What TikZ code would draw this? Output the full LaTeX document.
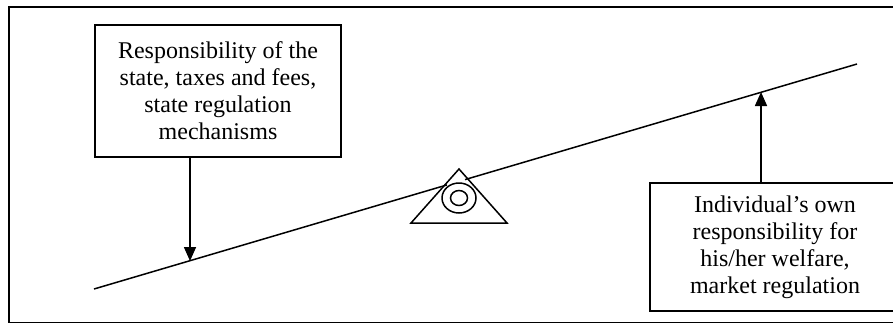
\documentclass[tikz,border=0pt]{standalone}
\usepackage{fontspec}
\setmainfont{Liberation Serif}
\usetikzlibrary{arrows.meta,calc}
\begin{document}
\begin{tikzpicture}[x=1pt,y=-1pt,
  line width=1.5pt,
  txtbox/.style={draw, line width=1.5pt, align=center, inner sep=0pt, font=\fontsize{24}{27}\selectfont},
  arr/.style={-{Triangle[length=14pt,width=12pt]}, line width=1.6pt}]
\useasboundingbox (0,0) rectangle (893,325);
\begin{scope}
\clip (0,0) rectangle (893,325);
% frame
\draw (9,7) rectangle (905,322.5);
% beam
\coordinate (b1) at (94,289);
\coordinate (b2) at (857,64);
\draw (b1) -- ($(b1)!0.4626!(b2)$);
\draw ($(b1)!0.4862!(b2)$) -- (b2);
% fulcrum
\draw (459,169) -- (507,223) -- (411,223) -- cycle;
\draw (459,198) ellipse [x radius=17, y radius=15];
\draw (459,198) ellipse [x radius=8.5, y radius=7.5];
% boxes
\node[txtbox, minimum width=246pt, minimum height=132pt] (lbox) at (218,91)
  {Responsibility of the\\state, taxes and fees,\\state regulation\\mechanisms};
\node[txtbox, minimum width=250pt, minimum height=128pt] (rbox) at (775,247)
  {Individual’s own\\responsibility for\\his/her welfare,\\market regulation};
% arrows
\coordinate (tipL) at (190,261);
\coordinate (tipR) at (761,92);
\draw[arr] (lbox.south -| tipL) -- (tipL);
\draw[arr] (rbox.north -| tipR) -- (tipR);
\end{scope}
\end{tikzpicture}
\end{document}
